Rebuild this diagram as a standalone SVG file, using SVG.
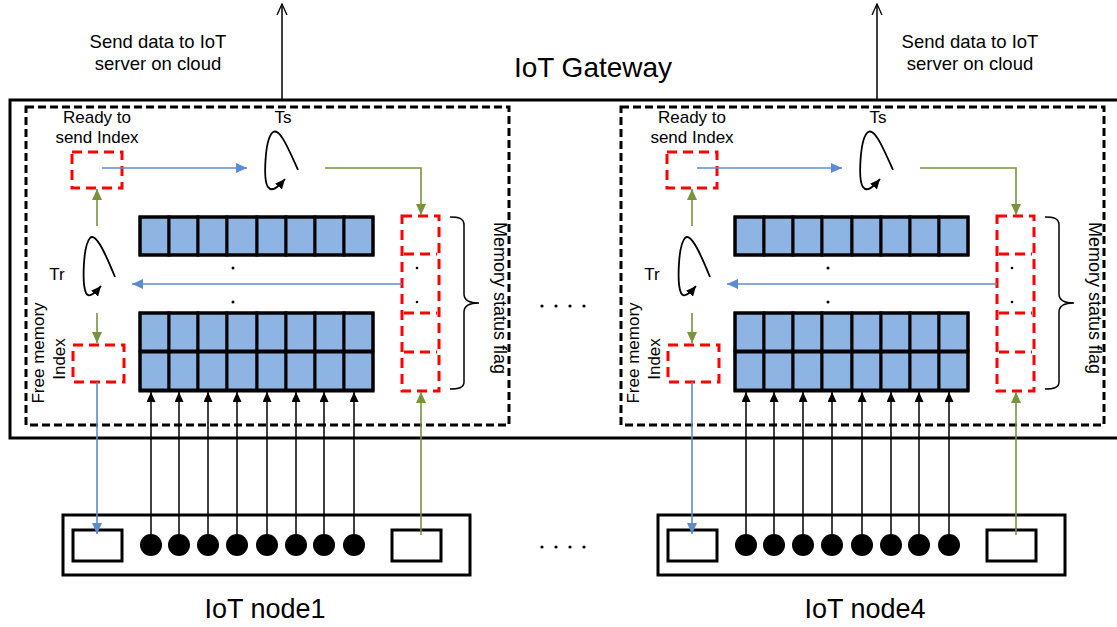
<svg xmlns="http://www.w3.org/2000/svg" width="1117" height="627" viewBox="0 0 1117 627">
<style>
text{font-family:"Liberation Sans",Arial,sans-serif;fill:#000}
.blk{fill:none;stroke:#000;stroke-width:3}
.gdash{fill:none;stroke:#000;stroke-width:3;stroke-dasharray:8 4}
.rdash{fill:none;stroke:#ff0000;stroke-width:3;stroke-dasharray:10 6}
.cell{fill:#8eb4e3;stroke:#000;stroke-width:3}
.blue{fill:none;stroke:#5b8bd0;stroke-width:1.6}
.green{fill:none;stroke:#77933c;stroke-width:1.6}
.thin{fill:none;stroke:#000;stroke-width:1.5}
.loop{fill:none;stroke:#000;stroke-width:1.8}
.dot{fill:#000}
</style>
<defs>
<marker id="mb" markerUnits="userSpaceOnUse" markerWidth="12" markerHeight="10" refX="11" refY="5" orient="auto"><path d="M0,0 L11,5 L0,10 z" fill="#5b8bd0"/></marker>
<marker id="mg" markerUnits="userSpaceOnUse" markerWidth="12" markerHeight="10" refX="11" refY="5" orient="auto"><path d="M0,0 L11,5 L0,10 z" fill="#77933c"/></marker>
<marker id="mk" markerUnits="userSpaceOnUse" markerWidth="11" markerHeight="9" refX="10" refY="4.5" orient="auto"><path d="M0,0 L10,4.5 L0,9 z" fill="#000"/></marker>
<marker id="mo" markerUnits="userSpaceOnUse" markerWidth="12" markerHeight="12" refX="11" refY="6" orient="auto"><path d="M0,1 L11,6 L0,11" fill="none" stroke="#000" stroke-width="1.3"/></marker>
<g id="cells8top">
<rect class="cell" x="140" y="217" width="29" height="38"/><rect class="cell" x="169" y="217" width="29" height="38"/><rect class="cell" x="198" y="217" width="29" height="38"/><rect class="cell" x="227" y="217" width="30" height="38"/><rect class="cell" x="257" y="217" width="29" height="38"/><rect class="cell" x="286" y="217" width="29" height="38"/><rect class="cell" x="315" y="217" width="29" height="38"/><rect class="cell" x="344" y="217" width="29" height="38"/>
</g>
</defs>

<g id="titles">
<text x="158" y="48" font-size="18.5" text-anchor="middle">Send data to IoT</text>
<text x="158" y="70" font-size="18.5" text-anchor="middle">server on cloud</text>
<text x="970" y="48" font-size="18.5" text-anchor="middle">Send data to IoT</text>
<text x="970" y="70" font-size="18.5" text-anchor="middle">server on cloud</text>
<text x="593" y="77" font-size="28" text-anchor="middle">IoT Gateway</text>
</g>

<g id="gateway">
<rect class="blk" x="10" y="100" width="1120" height="338"/>
</g>

<g id="panel1">
<rect class="gdash" x="26" y="107" width="483" height="318"/>
<g id="ready1"><text x="97" y="123" font-size="17" text-anchor="middle">Ready to</text><text x="97" y="143" font-size="17" text-anchor="middle">send Index</text><rect class="rdash" x="72" y="152" width="50" height="36"/></g>
<g id="ts1"><text x="283" y="123" font-size="17" text-anchor="middle">Ts</text></g>
<g id="tr1"><text x="57" y="280" font-size="17" text-anchor="middle">Tr</text></g>
<g id="free1"><rect class="rdash" x="73" y="345" width="51" height="37"/>
<text font-size="17" text-anchor="middle" transform="translate(44,353) rotate(-90)">Free memory</text>
<text font-size="17" text-anchor="middle" transform="translate(65,359) rotate(-90)">Index</text></g>
<g id="mem1">
<use href="#cells8top"/>
<use href="#cells8top" y="96"/>
<use href="#cells8top" y="135"/>
<rect x="140" y="217" width="233" height="38" class="blk"/>
<rect x="140" y="313" width="233" height="78" class="blk"/>
<circle class="dot" cx="233" cy="268" r="1.5"/><circle class="dot" cx="233" cy="302" r="1.5"/>
</g>
<g id="flag1">
<rect class="rdash" x="402" y="216" width="37" height="175"/>
<line class="rdash" x1="404" y1="254" x2="437" y2="254"/>
<line class="rdash" x1="404" y1="313" x2="437" y2="313"/>
<line class="rdash" x1="404" y1="352" x2="437" y2="352"/>
<circle class="dot" cx="417" cy="268" r="1.3"/><circle class="dot" cx="417" cy="302" r="1.3"/>
<path class="thin" d="M450,217 C458,217 464,218 464,225 L464,294 C464,300 470,303 479,303 C470,303 464,306 464,312 L464,382 C464,388 458,389 450,389" stroke-width="2"/>
<text font-size="18" text-anchor="middle" transform="translate(494,298) rotate(90)">Memory status flag</text>
</g>
</g>

<g id="panel4" transform="translate(595,0)">
<rect class="gdash" x="26" y="107" width="483" height="318"/>
<g id="ready4"><text x="97" y="123" font-size="17" text-anchor="middle">Ready to</text><text x="97" y="143" font-size="17" text-anchor="middle">send Index</text><rect class="rdash" x="72" y="152" width="50" height="36"/></g>
<g id="ts4"><text x="283" y="123" font-size="17" text-anchor="middle">Ts</text></g>
<g id="tr4"><text x="57" y="280" font-size="17" text-anchor="middle">Tr</text></g>
<g id="free4"><rect class="rdash" x="73" y="345" width="51" height="37"/>
<text font-size="17" text-anchor="middle" transform="translate(44,353) rotate(-90)">Free memory</text>
<text font-size="17" text-anchor="middle" transform="translate(65,359) rotate(-90)">Index</text></g>
<g id="mem4">
<use href="#cells8top"/>
<use href="#cells8top" y="96"/>
<use href="#cells8top" y="135"/>
<rect x="140" y="217" width="233" height="38" class="blk"/>
<rect x="140" y="313" width="233" height="78" class="blk"/>
<circle class="dot" cx="233" cy="268" r="1.5"/><circle class="dot" cx="233" cy="302" r="1.5"/>
</g>
<g id="flag4">
<rect class="rdash" x="402" y="216" width="37" height="175"/>
<line class="rdash" x1="404" y1="254" x2="437" y2="254"/>
<line class="rdash" x1="404" y1="313" x2="437" y2="313"/>
<line class="rdash" x1="404" y1="352" x2="437" y2="352"/>
<circle class="dot" cx="417" cy="268" r="1.3"/><circle class="dot" cx="417" cy="302" r="1.3"/>
<path class="thin" d="M450,217 C458,217 464,218 464,225 L464,294 C464,300 470,303 479,303 C470,303 464,306 464,312 L464,382 C464,388 458,389 450,389" stroke-width="2"/>
<text font-size="18" text-anchor="middle" transform="translate(494,298) rotate(90)">Memory status flag</text>
</g>
</g>

<g id="node1">
<rect class="blk" x="63" y="515" width="407" height="60"/>
<rect class="blk" x="73" y="530" width="49" height="31"/>
<rect class="blk" x="392" y="530" width="49" height="31"/>
<circle class="dot" cx="151" cy="545" r="11"/><circle class="dot" cx="179" cy="545" r="11"/><circle class="dot" cx="208" cy="545" r="11"/><circle class="dot" cx="237" cy="545" r="11"/><circle class="dot" cx="267" cy="545" r="11"/><circle class="dot" cx="296" cy="545" r="11"/><circle class="dot" cx="324" cy="545" r="11"/><circle class="dot" cx="354" cy="545" r="11"/>
<text x="265" y="618" font-size="27" text-anchor="middle">IoT node1</text>
</g>
<g id="node4" transform="translate(595,0)">
<rect class="blk" x="63" y="515" width="407" height="60"/>
<rect class="blk" x="73" y="530" width="49" height="31"/>
<rect class="blk" x="392" y="530" width="49" height="31"/>
<circle class="dot" cx="151" cy="545" r="11"/><circle class="dot" cx="179" cy="545" r="11"/><circle class="dot" cx="208" cy="545" r="11"/><circle class="dot" cx="237" cy="545" r="11"/><circle class="dot" cx="267" cy="545" r="11"/><circle class="dot" cx="296" cy="545" r="11"/><circle class="dot" cx="324" cy="545" r="11"/><circle class="dot" cx="354" cy="545" r="11"/>
<text x="270" y="618" font-size="27" text-anchor="middle">IoT node4</text>
</g>

<g id="ellipses">
<circle class="dot" cx="542" cy="306" r="1.6"/><circle class="dot" cx="556" cy="306" r="1.6"/><circle class="dot" cx="570" cy="306" r="1.6"/><circle class="dot" cx="584" cy="306" r="1.6"/>
<circle class="dot" cx="542" cy="547" r="1.6"/><circle class="dot" cx="556" cy="547" r="1.6"/><circle class="dot" cx="570" cy="547" r="1.6"/><circle class="dot" cx="584" cy="547" r="1.6"/>
</g>

<g id="connectors">
<g id="conn1">
<line class="thin" x1="282" y1="100" x2="282" y2="4" marker-end="url(#mo)"/>
<line class="blue" x1="102" y1="168" x2="247" y2="168" marker-end="url(#mb)"/>
<line class="green" x1="97" y1="226" x2="97" y2="189" marker-end="url(#mg)"/>
<path class="loop" d="M115,277 C106,255 96,232 90,238 C83,246 82,284 86,293 C89,299 96,292 101,286" marker-end="url(#mk)"/>
<path class="loop" d="M298,170 C289,150 279,125 272,133 C265,141 263,180 268,187 C272,193 279,186 285,179" marker-end="url(#mk)"/>
<polyline class="green" points="325,168 421,168 421,215" marker-end="url(#mg)"/>
<line class="blue" x1="402" y1="284" x2="132" y2="284" marker-end="url(#mb)"/>
<line class="green" x1="97" y1="313" x2="97" y2="343" marker-end="url(#mg)"/>
<line class="blue" x1="97" y1="382" x2="97" y2="534" marker-end="url(#mb)"/>
<line class="green" x1="421" y1="535" x2="421" y2="392" marker-end="url(#mg)"/>
<line class="thin" x1="151" y1="534" x2="151" y2="392" marker-end="url(#mk)"/>
<line class="thin" x1="179" y1="534" x2="179" y2="392" marker-end="url(#mk)"/>
<line class="thin" x1="208" y1="534" x2="208" y2="392" marker-end="url(#mk)"/>
<line class="thin" x1="237" y1="534" x2="237" y2="392" marker-end="url(#mk)"/>
<line class="thin" x1="267" y1="534" x2="267" y2="392" marker-end="url(#mk)"/>
<line class="thin" x1="296" y1="534" x2="296" y2="392" marker-end="url(#mk)"/>
<line class="thin" x1="324" y1="534" x2="324" y2="392" marker-end="url(#mk)"/>
<line class="thin" x1="354" y1="534" x2="354" y2="392" marker-end="url(#mk)"/>
</g>
<g id="conn4" transform="translate(595,0)">
<line class="thin" x1="282" y1="100" x2="282" y2="4" marker-end="url(#mo)"/>
<line class="blue" x1="102" y1="168" x2="247" y2="168" marker-end="url(#mb)"/>
<line class="green" x1="97" y1="226" x2="97" y2="189" marker-end="url(#mg)"/>
<path class="loop" d="M115,277 C106,255 96,232 90,238 C83,246 82,284 86,293 C89,299 96,292 101,286" marker-end="url(#mk)"/>
<path class="loop" d="M298,170 C289,150 279,125 272,133 C265,141 263,180 268,187 C272,193 279,186 285,179" marker-end="url(#mk)"/>
<polyline class="green" points="325,168 421,168 421,215" marker-end="url(#mg)"/>
<line class="blue" x1="402" y1="284" x2="132" y2="284" marker-end="url(#mb)"/>
<line class="green" x1="97" y1="313" x2="97" y2="343" marker-end="url(#mg)"/>
<line class="blue" x1="97" y1="382" x2="97" y2="534" marker-end="url(#mb)"/>
<line class="green" x1="421" y1="535" x2="421" y2="392" marker-end="url(#mg)"/>
<line class="thin" x1="151" y1="534" x2="151" y2="392" marker-end="url(#mk)"/>
<line class="thin" x1="179" y1="534" x2="179" y2="392" marker-end="url(#mk)"/>
<line class="thin" x1="208" y1="534" x2="208" y2="392" marker-end="url(#mk)"/>
<line class="thin" x1="237" y1="534" x2="237" y2="392" marker-end="url(#mk)"/>
<line class="thin" x1="267" y1="534" x2="267" y2="392" marker-end="url(#mk)"/>
<line class="thin" x1="296" y1="534" x2="296" y2="392" marker-end="url(#mk)"/>
<line class="thin" x1="324" y1="534" x2="324" y2="392" marker-end="url(#mk)"/>
<line class="thin" x1="354" y1="534" x2="354" y2="392" marker-end="url(#mk)"/>
</g>
</g>
</svg>
